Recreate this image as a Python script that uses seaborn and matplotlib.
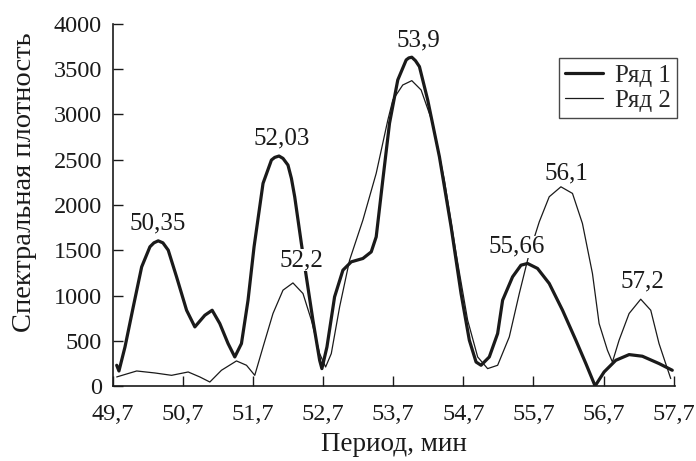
import pandas as pd
import matplotlib
matplotlib.use('Agg')
import matplotlib.pyplot as plt
import seaborn as sns

# Ряд 1 (thick line)
x1 = [49.753, 49.785, 49.871, 49.989, 50.109, 50.227, 50.284, 50.345, 50.412, 50.488,
      50.607, 50.750, 50.868, 51.011, 51.115, 51.224, 51.342, 51.438, 51.533, 51.627,
      51.713, 51.841, 51.961, 52.008, 52.069, 52.126, 52.197, 52.246, 52.293, 52.388,
      52.459, 52.553, 52.649, 52.681, 52.753, 52.862, 52.981, 53.100, 53.266, 53.385,
      53.456, 53.550, 53.646, 53.764, 53.884, 53.921, 53.964, 54.016, 54.073, 54.191,
      54.358, 54.525, 54.667, 54.785, 54.881, 54.952, 55.070, 55.189, 55.260, 55.402,
      55.522, 55.616, 55.758, 55.925, 56.115, 56.305, 56.448, 56.580, 56.708, 56.875,
      57.065, 57.254, 57.492, 57.681]
y1 = [229, 166, 431, 874, 1316, 1538, 1582, 1604, 1582, 1501,
      1206, 837, 653, 782, 837, 690, 469, 321, 469, 948,
      1538, 2239, 2497, 2526, 2541, 2515, 2441, 2294, 2091, 1575,
      1206, 727, 284, 192, 431, 985, 1280, 1372, 1409, 1482,
      1648, 2275, 2903, 3382, 3603, 3625, 3633, 3595, 3529, 3160,
      2533, 1759, 1022, 506, 265, 229, 321, 580, 948, 1206,
      1335, 1354, 1299, 1133, 837, 506, 248, 0, 155, 284,
      347, 329, 248, 174]

# Ряд 2 (thin line)
x2 = [49.753, 50.038, 50.298, 50.536, 50.773, 50.939, 51.082, 51.248, 51.462, 51.605,
      51.723, 51.841, 51.983, 52.126, 52.268, 52.411, 52.531, 52.649, 52.734, 52.815,
      52.934, 53.076, 53.266, 53.456, 53.622, 53.693, 53.835, 53.964, 54.097, 54.263,
      54.429, 54.596, 54.761, 54.904, 55.046, 55.189, 55.355, 55.498, 55.640, 55.783,
      55.925, 56.092, 56.257, 56.399, 56.542, 56.637, 56.756, 56.827, 56.922, 57.065,
      57.231, 57.374, 57.492, 57.587, 57.659]
y2 = [100, 166, 144, 118, 155, 100, 44, 174, 277, 229,
      118, 431, 801, 1059, 1139, 1022, 727, 358, 210, 358,
      874, 1390, 1833, 2350, 2939, 3160, 3326, 3374, 3271, 2903,
      2275, 1465, 727, 321, 192, 229, 542, 1022, 1465, 1814,
      2091, 2201, 2128, 1796, 1243, 690, 395, 265, 506, 801,
      959, 837, 469, 248, 82]

# peak labels
peak_text = ['50,35', '52,03', '52,2', '53,9', '55,66', '56,1', '57,2']
peak_x = [50.334, 52.103, 52.388, 54.059, 55.462, 56.174, 57.25]
peak_y = [1796, 2737, 1390, 3815, 1538, 2350, 1150]

xticks = [49.7, 50.7, 51.7, 52.7, 53.7, 54.7, 55.7, 56.7, 57.7]
xtick_labels = ['49,7', '50,7', '51,7', '52,7', '53,7', '54,7', '55,7', '56,7', '57,7']
yticks = [0, 500, 1000, 1500, 2000, 2500, 3000, 3500, 4000]

sns.set_theme(style='ticks')
plt.rcParams['font.family'] = ['Liberation Serif', 'DejaVu Serif']
plt.rcParams['xtick.direction'] = 'in'
plt.rcParams['ytick.direction'] = 'in'
plt.rcParams['lines.solid_joinstyle'] = 'round'
plt.rcParams['lines.solid_capstyle'] = 'round'

ink = '#1a1a1a'

df = pd.concat([
    pd.DataFrame({'period': x1, 'power': y1, 'series': 'Ряд 1'}),
    pd.DataFrame({'period': x2, 'power': y2, 'series': 'Ряд 2'}),
])

fig = plt.figure(figsize=(6.96, 4.61), dpi=100)
ax = fig.add_axes([113 / 696, 1 - 386 / 461, 562 / 696, 362 / 461])

sns.lineplot(data=df, x='period', y='power', hue='series', size='series',
             sizes={'Ряд 1': 2.3, 'Ряд 2': 0.9},
             palette={'Ряд 1': ink, 'Ряд 2': ink},
             estimator=None, sort=False, ax=ax)

for t, px, py in zip(peak_text, peak_x, peak_y):
    ax.text(px, py, t, ha='center', va='center', fontsize=18, color=ink,
            bbox=dict(facecolor='white', edgecolor='none', pad=0.2), zorder=5)

ax.set_xlim(49.7, 57.72)
ax.set_ylim(0, 4000)
ax.set_xticks(xticks)
ax.set_xticklabels(xtick_labels)
ax.set_yticks(yticks)
ax.tick_params(axis='both', labelsize=17.5, length=7.5, width=1, colors=ink)
ax.tick_params(axis='x', pad=13)
ax.tick_params(axis='y', pad=8)
sns.despine(ax=ax)
for s in ['left', 'bottom']:
    ax.spines[s].set_linewidth(1.2)
    ax.spines[s].set_color(ink)

ax.set_xlabel('Период, мин', fontsize=19.5, color=ink, labelpad=5)
ax.set_ylabel('Спектральная плотность', fontsize=20.5, color=ink)
ax.yaxis.set_label_coords(-0.135, 0.564)

leg = ax.legend(loc='upper right', bbox_to_anchor=(1.004, 0.906), borderaxespad=0,
                fontsize=18, frameon=True, fancybox=False, handlelength=1.5,
                handletextpad=0.5, borderpad=0.25, labelspacing=0.1)
leg.get_frame().set_edgecolor(ink)
leg.get_frame().set_linewidth(1.0)
leg.set_title(None)

fig.savefig('out.png', dpi=100)
